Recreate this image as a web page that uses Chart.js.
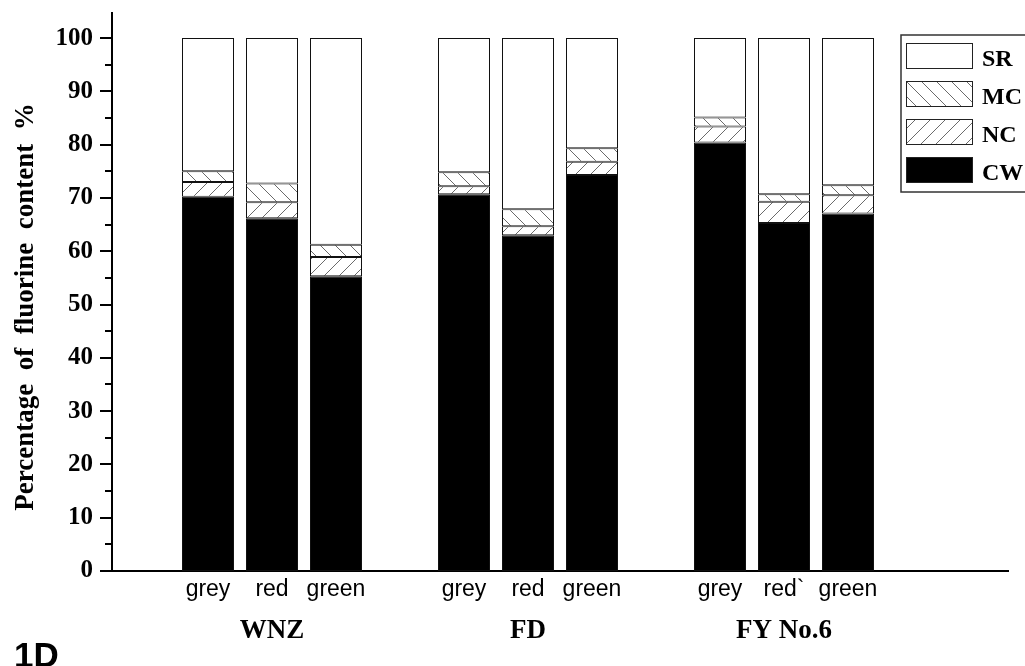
<!DOCTYPE html>
<html>
<head>
<meta charset="utf-8">
<script src="https://cdn.jsdelivr.net/npm/chart.js@4"></script>
<style>
  html, body { margin: 0; padding: 0; background: #fff; }
  #wrap { width: 1025px; height: 666px; }
</style>
</head>
<body>
<div id="wrap"><canvas id="fluorineChart" width="1025" height="666"></canvas></div>
<script>
// slots: empty slots keep the gaps between groups
const categories = ['', 'grey', 'red', 'green', '', 'grey', 'red', 'green', '', 'grey', 'red`', 'green', '', ''];
const groups = ['WNZ', 'FD', 'FY No.6'];
const groupSlots = [2, 6, 10];

// percentage segments per bar (null = empty slot)
const cwValues = [null, 70.2, 66.2, 55.3, null, 70.7, 63.0, 74.3, null, 80.4, 65.3, 67.1, null, null];
const ncValues = [null, 2.8, 3.0, 3.6, null, 1.5, 1.7, 2.5, null, 3.0, 4.0, 3.4, null, null];
const mcValues = [null, 2.0, 3.5, 2.3, null, 2.6, 3.2, 2.5, null, 1.7, 1.4, 1.9, null, null];
const srValues = [null, 25.0, 27.3, 38.8, null, 25.2, 32.1, 20.7, null, 14.9, 29.3, 27.6, null, null];

const yTicks = [0, 10, 20, 30, 40, 50, 60, 70, 80, 90, 100];
const minorTicks = [5, 15, 25, 35, 45, 55, 65, 75, 85, 95];

// hatch patterns for MC and NC
function makeHatch(dir) {
  const s = 15;
  const c = document.createElement('canvas');
  c.width = s;
  c.height = s;
  const g = c.getContext('2d');
  g.fillStyle = '#fff';
  g.fillRect(0, 0, s, s);
  g.strokeStyle = '#6a6a6a';
  g.lineWidth = 1;
  g.beginPath();
  for (const k of [-s, 0, s]) {
    if (dir === 'back') {
      g.moveTo(k, 0);
      g.lineTo(k + s, s);
    } else {
      g.moveTo(k, s);
      g.lineTo(k + s, 0);
    }
  }
  g.stroke();
  return g.createPattern(c, 'repeat');
}

const mcPattern = makeHatch('back');
const ncPattern = makeHatch('fwd');

// extra drawing: minor ticks, axis title, group labels, legend box, panel tag
const decorPlugin = {
  id: 'decor',
  afterDraw(chart) {
    const ctx = chart.ctx;
    const y = chart.scales.y;
    const x = chart.scales.x;
    const left = chart.chartArea.left;
    ctx.save();

    // y ticks (outside)
    ctx.strokeStyle = '#000';
    ctx.lineWidth = 2;
    yTicks.forEach(v => {
      const py = Math.round(y.getPixelForValue(v));
      ctx.beginPath();
      ctx.moveTo(left - 12, py);
      ctx.lineTo(left, py);
      ctx.stroke();
    });
    minorTicks.forEach(v => {
      const py = Math.round(y.getPixelForValue(v));
      ctx.beginPath();
      ctx.moveTo(left - 7, py);
      ctx.lineTo(left, py);
      ctx.stroke();
    });

    // y title
    ctx.fillStyle = '#000';
    ctx.font = 'bold 27px "Liberation Serif", "DejaVu Serif", serif';
    ctx.textAlign = 'center';
    ctx.textBaseline = 'alphabetic';
    ctx.translate(33, 307);
    ctx.rotate(-Math.PI / 2);
    ctx.fillText('Percentage  of  fluorine  content  %', 0, 0);
    ctx.setTransform(1, 0, 0, 1, 0, 0);

    // group labels
    ctx.font = 'bold 27px "Liberation Serif", "DejaVu Serif", serif';
    groups.forEach((name, i) => {
      ctx.fillText(name, x.getPixelForValue(groupSlots[i]), 638);
    });

    // panel tag
    ctx.textAlign = 'left';
    ctx.font = 'bold 35px "Liberation Sans", Arial, sans-serif';
    ctx.fillText('1D', 14, 667);

    // legend
    ctx.lineWidth = 1.5;
    ctx.strokeStyle = '#333';
    ctx.strokeRect(901, 35, 140, 157);
    const order = [3, 2, 1, 0];
    ctx.font = 'bold 24px "Liberation Serif", "DejaVu Serif", serif';
    order.forEach((dsIndex, i) => {
      const ds = chart.data.datasets[dsIndex];
      const top = 43 + i * 38;
      ctx.fillStyle = ds.backgroundColor;
      ctx.fillRect(906, top, 67, 26);
      ctx.lineWidth = 1;
      ctx.strokeStyle = '#222';
      ctx.strokeRect(906.5, top + 0.5, 66, 25);
      ctx.fillStyle = '#000';
      ctx.fillText(ds.label, 982, top + 23);
    });

    ctx.restore();
  }
};

const ctx = document.getElementById('fluorineChart').getContext('2d');
new Chart(ctx, {
  type: 'bar',
  data: {
    labels: categories,
    datasets: [
      { label: 'CW', data: cwValues, backgroundColor: '#000' },
      { label: 'NC', data: ncValues, backgroundColor: ncPattern },
      { label: 'MC', data: mcValues, backgroundColor: mcPattern },
      { label: 'SR', data: srValues, backgroundColor: '#fff' }
    ]
  },
  options: {
    responsive: false,
    animation: false,
    layout: { padding: { top: 13, right: 17, bottom: 0, left: 0 } },
    datasets: {
      bar: {
        borderColor: '#111',
        borderWidth: 1,
        borderSkipped: false,
        barPercentage: 0.8125,
        categoryPercentage: 1
      }
    },
    plugins: {
      legend: { display: false },
      tooltip: { enabled: false }
    },
    scales: {
      x: {
        stacked: true,
        offset: true,
        grid: { display: false, drawTicks: false },
        border: { display: true, color: '#000', width: 2 },
        ticks: {
          color: '#000',
          padding: 5,
          maxRotation: 0,
          autoSkip: false,
          font: { family: '"Liberation Sans", Arial, sans-serif', size: 23 }
        },
        afterFit(scale) { scale.height = 95; }
      },
      y: {
        stacked: true,
        min: 0,
        max: 104.7,
        grid: { display: false, drawTicks: false },
        border: { display: true, color: '#000', width: 2 },
        ticks: {
          stepSize: 10,
          includeBounds: false,
          padding: 19,
          color: '#000',
          font: { family: '"Liberation Serif", "DejaVu Serif", serif', size: 25, weight: 'bold' }
        },
        afterFit(scale) {
          scale.width = 112;
          scale.paddingTop = 0;
          scale.paddingBottom = 0;
        }
      }
    }
  },
  plugins: [decorPlugin]
});
</script>
</body>
</html>
